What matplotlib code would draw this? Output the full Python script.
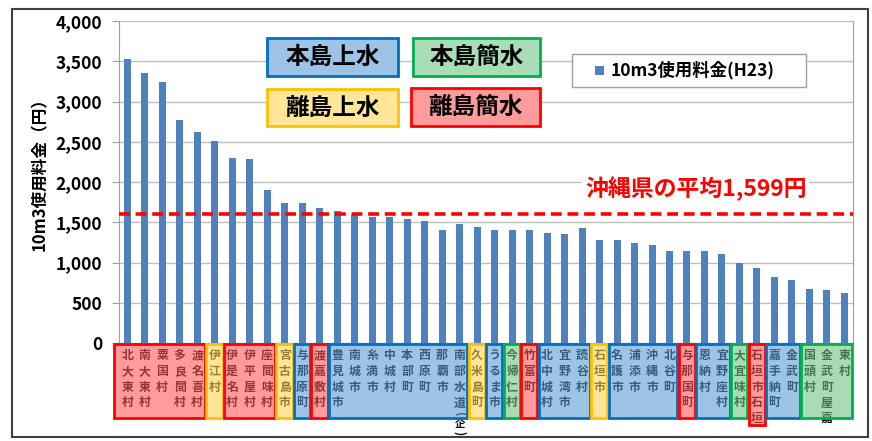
import matplotlib
matplotlib.use("Agg")
import matplotlib.pyplot as plt
from matplotlib.patches import Rectangle
from matplotlib import transforms

plt.rcParams['font.family'] = ['Noto Sans CJK JP', 'DejaVu Sans']
plt.rcParams['font.weight'] = 'bold'

# 市町村ごとの10m3使用料金（H23）
names = ["北大東村", "南大東村", "粟国村", "多良間村", "渡名喜村", "伊江村",
         "伊是名村", "伊平屋村", "座間味村", "宮古島市", "与那原町", "渡嘉敷村",
         "豊見城市", "南城市", "糸満市", "中城村", "本部町", "西原町", "那覇市",
         "南部水道(企)", "久米島町", "うるま市", "今帰仁村", "竹富町", "北中城村",
         "宜野湾市", "読谷村", "石垣市", "名護市", "浦添市", "沖縄市", "北谷町",
         "与那国町", "恩納村", "宜野座村", "大宜味村", "石垣市石垣", "嘉手納町",
         "金武町", "国頭村", "金武町屋嘉", "東村"]
fees = [3528, 3354, 3245, 2772, 2619, 2515, 2303, 2286, 1905, 1743, 1738, 1676,
        1643, 1585, 1568, 1563, 1539, 1510, 1406, 1473, 1439, 1406, 1406, 1398,
        1364, 1360, 1423, 1282, 1282, 1248, 1215, 1149, 1149, 1140, 1108, 990,
        933, 825, 784, 675, 659, 617]
# 事業区分
kinds = ["離島簡水"] * 5 + ["離島上水"] + ["離島簡水"] * 3 + ["離島上水", "本島上水", "離島簡水"] \
    + ["本島上水"] * 8 + ["離島上水", "本島上水", "本島簡水", "離島簡水"] + ["本島上水"] * 3 \
    + ["離島上水"] + ["本島上水"] * 4 + ["離島簡水"] + ["本島上水"] * 2 \
    + ["本島簡水", "離島簡水"] + ["本島上水"] * 2 + ["本島簡水"] * 3
average = 1599

# 区分ごとの (塗り, 枠線)
kind_style = {
    "本島上水": ("#9DC3E6", "#0070C0"),
    "本島簡水": ("#A9DDB6", "#00B050"),
    "離島上水": ("#FFE699", "#FFC000"),
    "離島簡水": ("#FF9B9B", "#FF0000"),
}
ALPHA = 0.6


def overlay(c):
    # 白地の上で c に見える半透明色
    r, g, b = matplotlib.colors.to_rgb(c)
    return tuple(min(1, max(0, (v - (1 - ALPHA)) / ALPHA)) for v in (r, g, b))


W, H = 872, 441
fig = plt.figure(figsize=(W / 100, H / 100), dpi=100)
ax = fig.add_axes([119 / W, 1 - 343 / H, (853 - 119) / W, (343 - 21) / H])

x = list(range(len(names)))
ax.bar(x, fees, width=0.4, color="#4F81BD", zorder=3)
ax.set_xlim(-0.47, len(names) - 0.51)
ax.set_ylim(0, 4000)
ax.set_yticks(range(0, 4001, 500))
ax.set_yticklabels([f"{v:,}" for v in range(0, 4001, 500)], fontsize=12.5, fontweight="bold")
ax.yaxis.grid(True, color="#BFBFBF", linewidth=1)
ax.set_axisbelow(True)
ax.tick_params(axis="y", length=5, color="#A0A0A0", pad=7)
ax.set_xticks([])
ax.spines["top"].set_visible(False)
for s in ["left", "right", "bottom"]:
    ax.spines[s].set_color("#A0A0A0")

# 県平均
ax.axhline(average, color="#FF0000", linestyle=(0, (3, 1.6)), linewidth=2.6, zorder=4)
fig.text(585 / W, 1 - 189 / H, f"沖縄県の平均{average:,}円", color="#FF0000",
         fontsize=16.5, fontweight="bold", ha="left", va="center", zorder=5,
         bbox=dict(facecolor="white", edgecolor="none", pad=2))

fig.text(40 / W, 1 - 170 / H, "10m3使用料金（円）", rotation=90, ha="center", va="center",
         fontsize=12, fontweight="bold")

# 市町村名（縦書き）と区分の枠
bt = transforms.blended_transform_factory(ax.transData, fig.transFigure)
for i, n in enumerate(names):
    main, _, note = n.partition("(")
    ax.text(i, 1 - 349 / H, "\n".join(main), transform=bt, ha="center", va="top",
            fontsize=8.6, fontweight="bold", linespacing=1.28, color="black", zorder=6,
            clip_on=False)
    if note:
        # 括弧書きは小さく縦に
        kw = dict(transform=bt, ha="center", va="center", fontweight="bold",
                  color="black", zorder=6, clip_on=False)
        ax.text(i, 1 - 414 / H, "(", rotation=-90, fontsize=8, **kw)
        ax.text(i, 1 - 424 / H, note.rstrip(")"), fontsize=7.5, **kw)
        ax.text(i, 1 - 433 / H, ")", rotation=-90, fontsize=8, **kw)

runs = []
for i, k in enumerate(kinds):
    if runs and runs[-1][2] == k:
        runs[-1][1] = i
    else:
        runs.append([i, i, k])
y0, y1 = 1 - 418 / H, 1 - 344 / H
for a, b, k in runs:
    face, edge = kind_style[k]
    left = -0.74 if a == 0 else a - 0.47
    right = b + 0.45
    bottom = 1 - 425 / H if names[a] == "石垣市石垣" else y0
    fig.patches.append(Rectangle((left, bottom), right - left, y1 - bottom, transform=bt,
                                 facecolor=overlay(face), alpha=ALPHA, edgecolor="none", zorder=7))
    fig.patches.append(Rectangle((left, bottom), right - left, y1 - bottom, transform=bt,
                                 facecolor="none", edgecolor=edge, linewidth=2, zorder=8))

# 区分の凡例
boxes = [("本島上水", 267, 38, 398, 76), ("本島簡水", 413, 38, 540, 76),
         ("離島上水", 267, 89, 398, 126), ("離島簡水", 411, 88, 540, 126)]
for label, l, t, r, b in boxes:
    face, edge = kind_style[label]
    fig.patches.append(Rectangle((l / W, 1 - b / H), (r - l) / W, (b - t) / H, transform=fig.transFigure,
                                 facecolor=face, edgecolor=edge, linewidth=2, zorder=5))
    fig.text((l + r) / 2 / W, 1 - (t + b) / 2 / H, label, ha="center", va="center",
             fontsize=17, fontweight="bold", zorder=6)

# 系列の凡例
fig.patches.append(Rectangle((572 / W, 1 - 87 / H), 234 / W, 33 / H, transform=fig.transFigure,
                             facecolor="white", edgecolor="#A0A0A0", linewidth=1, zorder=5))
fig.patches.append(Rectangle((595 / W, 1 - 75 / H), 9 / W, 9 / H, transform=fig.transFigure,
                             facecolor="#4F81BD", edgecolor="none", zorder=6))
fig.text(611 / W, 1 - 70 / H, "10m3使用料金(H23)", ha="left", va="center",
         fontsize=12.5, fontweight="bold", zorder=6)

# 外枠
fig.patches.append(Rectangle((12 / W, 1 - 437 / H), 856 / W, 428 / H, transform=fig.transFigure,
                             facecolor="none", edgecolor="#404040", linewidth=1.5, zorder=1))

fig.savefig("out.png", dpi=100)
